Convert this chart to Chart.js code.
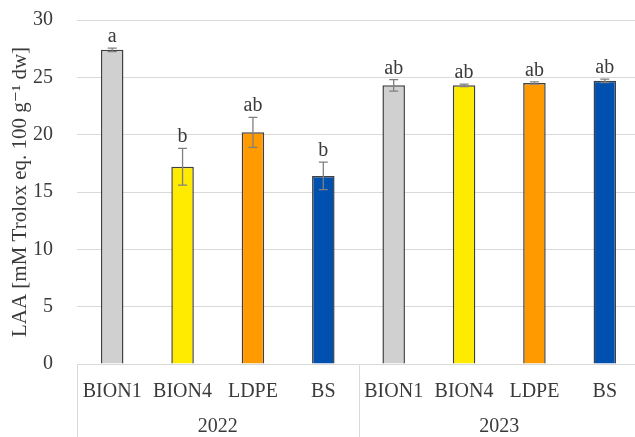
<!DOCTYPE html>
<html>
<head>
<meta charset="utf-8">
<script src="https://cdn.jsdelivr.net/npm/chart.js@4"></script>
<style>
  html, body { margin: 0; padding: 0; background: #fff; overflow: hidden; }
  #wrap { width: 640px; height: 437px; }
</style>
</head>
<body>
<div id="wrap"><canvas id="laaChart"></canvas></div>
<script>
const categories = ['BION1', 'BION4', 'LDPE', 'BS', 'BION1', 'BION4', 'LDPE', 'BS'];
const years = ['2022', '2023'];
const laa = [27.4, 17.2, 20.2, 16.4, 24.3, 24.3, 24.5, 24.7];
const laaErr = [0.15, 1.6, 1.3, 1.2, 0.5, 0.1, 0.1, 0.15];
const letters = ['a', 'b', 'ab', 'b', 'ab', 'ab', 'ab', 'ab'];
const yTicks = [0, 5, 10, 15, 20, 25, 30];

const palette = ['#d0d0d0', '#ffeb00', '#ff9a00', '#0050b0'];
const serif = "'Liberation Serif', 'DejaVu Serif', serif";
const textColor = '#3a3a3a';

// error bars + significance letters
const errorBars = {
  id: 'errorBars',
  afterDatasetsDraw(chart) {
    const ctx = chart.ctx;
    const x = chart.scales.x, y = chart.scales.y;
    ctx.save();
    laa.forEach((v, i) => {
      const cx = x.getPixelForValue(i);
      const top = y.getPixelForValue(v + laaErr[i]);
      const bot = y.getPixelForValue(v - laaErr[i]);
      ctx.strokeStyle = '#808080';
      ctx.lineWidth = 1.3;
      ctx.beginPath();
      ctx.moveTo(cx, top); ctx.lineTo(cx, bot);
      ctx.moveTo(cx - 4.5, top); ctx.lineTo(cx + 4.5, top);
      ctx.moveTo(cx - 4.5, bot); ctx.lineTo(cx + 4.5, bot);
      ctx.stroke();
      ctx.fillStyle = textColor;
      ctx.font = '20px ' + serif;
      ctx.textAlign = 'center';
      ctx.textBaseline = 'alphabetic';
      ctx.fillText(letters[i], cx, top - 6);
    });
    ctx.restore();
  }
};

// year group labels and separators under the category axis
const yearGroups = {
  id: 'yearGroups',
  afterDraw(chart) {
    const ctx = chart.ctx;
    const x = chart.scales.x;
    const area = chart.chartArea;
    const per = categories.length / years.length;
    ctx.save();
    ctx.strokeStyle = '#d9d9d9';
    ctx.lineWidth = 1;
    const edges = [area.left];
    years.forEach((yr, g) => {
      const first = x.getPixelForValue(g * per);
      const last = x.getPixelForValue(g * per + per - 1);
      const right = g === years.length - 1 ? area.right : (last + x.getPixelForValue(g * per + per)) / 2;
      edges.push(right);
      ctx.fillStyle = textColor;
      ctx.font = '20px ' + serif;
      ctx.textAlign = 'center';
      ctx.textBaseline = 'middle';
      ctx.fillText(yr, (first + last) / 2, 427);
    });
    edges.forEach(e => {
      const px = Math.round(e) + 0.5;
      ctx.beginPath();
      ctx.moveTo(px, area.bottom);
      ctx.lineTo(px, chart.height);
      ctx.stroke();
    });
    ctx.restore();
  }
};

new Chart(document.getElementById('laaChart'), {
  type: 'bar',
  data: {
    labels: categories,
    datasets: [{
      data: laa,
      backgroundColor: categories.map((c, i) => palette[i % palette.length]),
      borderColor: '#404040',
      borderWidth: 1.5,
      barPercentage: 0.32,
      categoryPercentage: 1
    }]
  },
  options: {
    responsive: true,
    maintainAspectRatio: false,
    animation: false,
    layout: { padding: { top: 20, right: 0, left: 0, bottom: 0 } },
    plugins: { legend: { display: false }, tooltip: { enabled: false } },
    scales: {
      x: {
        grid: { display: false, drawTicks: false },
        border: { display: true, color: '#d9d9d9', width: 1 },
        ticks: { color: textColor, font: { family: serif, size: 20 }, padding: 16, maxRotation: 0, autoSkip: false },
        afterFit(scale) { scale.height = 73; }
      },
      y: {
        min: 0,
        max: 30,
        afterBuildTicks(scale) { scale.ticks = yTicks.map(v => ({ value: v })); },
        grid: { color: '#d9d9d9', lineWidth: 1, drawTicks: false },
        border: { display: false },
        ticks: { color: textColor, font: { family: serif, size: 20 }, padding: 24 },
        title: {
          display: true,
          text: 'LAA [mM Trolox eq. 100 g\u207B\u00B9 dw]',
          color: textColor,
          font: { family: serif, size: 21 },
          padding: { top: 8, bottom: 0 }
        },
        afterFit(scale) {
          scale.width = 77;
          scale.paddingTop = 0;
          scale.paddingBottom = 0;
        }
      }
    }
  },
  plugins: [errorBars, yearGroups]
});
</script>
</body>
</html>
